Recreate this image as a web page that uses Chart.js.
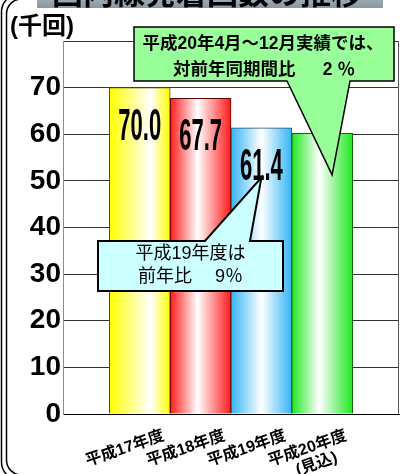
<!DOCTYPE html>
<html>
<head>
<meta charset="utf-8">
<script src="https://cdn.jsdelivr.net/npm/chart.js@4/dist/chart.umd.min.js"></script>
<style>
  html, body { margin: 0; padding: 0; background: #fff; overflow: hidden; }
  canvas { display: block; }
</style>
</head>
<body>
<canvas id="c" width="401" height="474"></canvas>
<script>
// Domestic flight movements per fiscal year (thousands)
const title = '国内線発着回数の推移';
const unitLabel = '(千回)';
const categories = [['平成17年度'], ['平成18年度'], ['平成19年度'], ['平成20年度', '(見込)　']];
const flights = [70.0, 67.7, 61.4, 60.2];
const showValue = [true, true, true, false];
const yTicks = [0, 10, 20, 30, 40, 50, 60, 70, 80];
const noteRecent = ['平成20年4月～12月実績では、', '対前年同期間比　  2 ％'];
const notePrev = ['平成19年度は', '前年比　 9％'];

const barColors = ['#ffff00', '#ff1a1a', '#33b5f5', '#1ee81e'];
const barEdges = ['#4d4d00', '#5c0000', '#1f4f6e', '#0a6b0a'];
const whiteStop = [0.68, 0.45, 0.5, 0.45];

const CJK = "'Noto Sans CJK JP'";
const LATIN_CJK = "'Liberation Sans', 'Noto Sans CJK JP'";

// Horizontal "cylinder" shading for each bar: colour - white - colour
function barFill(context) {
  const chart = context.chart;
  const i = context.dataIndex;
  if (!chart.chartArea || context.type !== 'data') return barColors[i];
  const xs = chart.scales.x;
  const cx = xs.getPixelForValue(i);
  const half = Math.abs(xs.getPixelForValue(1) - xs.getPixelForValue(0)) / 2;
  const g = chart.ctx.createLinearGradient(cx - half, 0, cx + half, 0);
  g.addColorStop(0, barColors[i]);
  g.addColorStop(whiteStop[i], '#ffffff');
  g.addColorStop(1, barColors[i]);
  return g;
}

function drawCallout(ctx, box, tail, tip, fill, lw) {
  ctx.save();
  ctx.beginPath();
  if (tail.side === 'bottom') {
    ctx.moveTo(box.l, box.t);
    ctx.lineTo(box.r, box.t);
    ctx.lineTo(box.r, box.b);
    ctx.lineTo(tail.b, box.b);
    ctx.lineTo(tip.x, tip.y);
    ctx.lineTo(tail.a, box.b);
    ctx.lineTo(box.l, box.b);
  } else {
    ctx.moveTo(box.l, box.t);
    ctx.lineTo(tail.a, box.t);
    ctx.lineTo(tip.x, tip.y);
    ctx.lineTo(tail.b, box.t);
    ctx.lineTo(box.r, box.t);
    ctx.lineTo(box.r, box.b);
    ctx.lineTo(box.l, box.b);
  }
  ctx.closePath();
  ctx.fillStyle = fill;
  ctx.fill();
  ctx.lineWidth = lw;
  ctx.strokeStyle = '#000';
  ctx.lineJoin = 'miter';
  ctx.stroke();
  ctx.restore();
}

const decor = {
  id: 'decor',
  afterDatasetsDraw(chart) {
    const ctx = chart.ctx;
    const meta = chart.getDatasetMeta(0);
    ctx.save();
    ctx.fillStyle = '#000';
    ctx.textAlign = 'center';
    ctx.textBaseline = 'alphabetic';
    ctx.font = "bold 44px 'Liberation Sans'";
    meta.data.forEach((bar, i) => {
      if (!showValue[i]) return;
      ctx.save();
      ctx.translate(bar.x, bar.y + 52);
      ctx.scale(0.5, 1);
      ctx.fillText(flights[i].toFixed(1), 0, 0);
      ctx.restore();
    });
    ctx.restore();
  },
  afterDraw(chart) {
    const ctx = chart.ctx;
    const { chartArea } = chart;
    const xs = chart.scales.x, ys = chart.scales.y;

    // plot-area right edge
    ctx.save();
    ctx.strokeStyle = '#555';
    ctx.lineWidth = 1;
    ctx.beginPath();
    ctx.moveTo(Math.round(chartArea.right) - 0.5, chartArea.top);
    ctx.lineTo(Math.round(chartArea.right) - 0.5, chartArea.bottom);
    ctx.stroke();
    ctx.restore();

    // callouts
    drawCallout(ctx, { l: 98, t: 241, r: 283, b: 291 }, { side: 'top', a: 205, b: 250 },
      { x: xs.getPixelForValue(2.0), y: ys.getPixelForValue(50.7) }, '#ccffff', 2);
    drawCallout(ctx, { l: 134, t: 27, r: 394, b: 81 }, { side: 'bottom', a: 287, b: 350 },
      { x: xs.getPixelForValue(3.162), y: ys.getPixelForValue(51.3) }, '#99ff99', 1.5);

    ctx.save();
    ctx.fillStyle = '#000';
    ctx.textAlign = 'center';
    ctx.textBaseline = 'middle';
    ctx.font = 'bold 17.5px ' + LATIN_CJK;
    ctx.fillText(noteRecent[0], 263, 44);
    ctx.fillText(noteRecent[1], 264, 70);
    ctx.font = '18px ' + LATIN_CJK;
    ctx.fillText(notePrev[0], 190.5, 254);
    ctx.fillText(notePrev[1], 190.5, 277);

    // unit label
    ctx.textAlign = 'left';
    ctx.font = 'bold 24px ' + LATIN_CJK;
    ctx.fillText(unitLabel, 10, 27);
    ctx.restore();

    // double rounded frame
    ctx.save();
    ctx.strokeStyle = '#000';
    ctx.lineWidth = 1.5;
    ctx.beginPath();
    ctx.roundRect(1.5, -6, 420, 486, 18);
    ctx.stroke();
    ctx.beginPath();
    ctx.roundRect(6.5, -1, 410, 476, 15);
    ctx.stroke();
    ctx.restore();

    // title banner
    ctx.save();
    const g = ctx.createLinearGradient(0, -30, 0, 8);
    g.addColorStop(0, '#dfe8ec');
    g.addColorStop(0.6, '#a9b9c0');
    g.addColorStop(1, '#8798a0');
    ctx.fillStyle = g;
    ctx.fillRect(37, -30, 346, 38);
    ctx.fillStyle = '#000';
    ctx.textAlign = 'center';
    ctx.textBaseline = 'middle';
    ctx.font = 'bold 31px ' + CJK;
    ctx.fillText(title, 207, -8);
    ctx.restore();
  }
};

new Chart(document.getElementById('c'), {
  type: 'bar',
  data: {
    datasets: [{
      data: flights.map((v, i) => ({ x: i, y: v })),
      backgroundColor: barFill,
      borderColor: barEdges,
      borderWidth: 1,
      barPercentage: 1,
      categoryPercentage: 1
    }]
  },
  options: {
    responsive: false,
    animation: false,
    devicePixelRatio: 1,
    layout: { padding: { top: 41, right: 2, left: 0, bottom: 0 } },
    plugins: { legend: { display: false }, tooltip: { enabled: false } },
    scales: {
      x: {
        type: 'linear',
        offset: false,
        min: -1.262,
        max: 4.262,
        grid: { display: false, offset: false },
        border: { color: '#000', width: 1 },
        afterBuildTicks: s => { s.ticks = categories.map((_, i) => ({ value: i })); },
        afterFit: s => { s.height = 60; },
        ticks: {
          autoSkip: false,
          minRotation: 19,
          maxRotation: 19,
          labelOffset: 24,
          padding: 5,
          color: '#000',
          font: { family: LATIN_CJK, size: 16, weight: 'bold', lineHeight: 1.1 },
          callback: v => categories[v]
        }
      },
      y: {
        min: 0,
        max: 80,
        afterBuildTicks: s => { s.ticks = yTicks.map(v => ({ value: v })); },
        afterFit: s => { s.width = 63; },
        grid: { color: '#333', lineWidth: 1, drawTicks: false },
        border: { color: '#8c8c8c', width: 1 },
        ticks: {
          padding: 2,
          color: '#000',
          font: { family: 'Liberation Sans', size: 28, weight: 'bold' },
          callback: v => (v === 80 ? '' : v)
        }
      }
    }
  },
  plugins: [decor]
});
</script>
</body>
</html>
